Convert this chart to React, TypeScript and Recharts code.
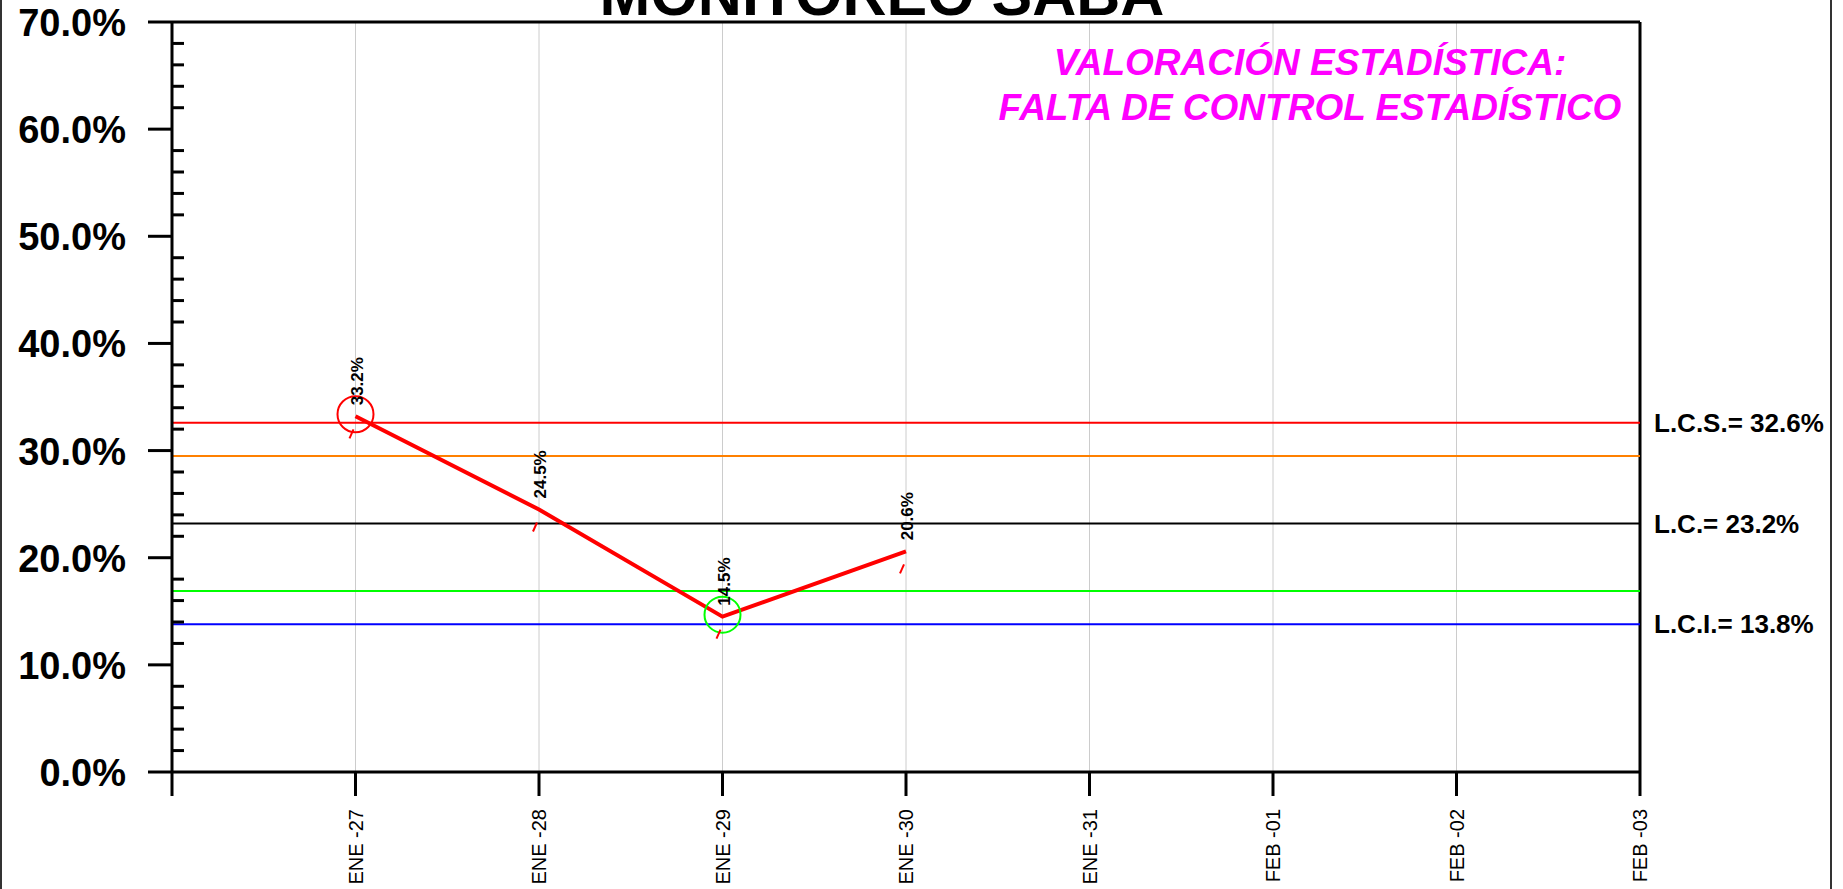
import { LineChart, Line, XAxis, YAxis, CartesianGrid, ReferenceLine, LabelList } from 'recharts';

const categories = ['', 'ENE -27', 'ENE -28', 'ENE -29', 'ENE -30', 'ENE -31', 'FEB -01', 'FEB -02', 'FEB -03'];
const xTicks = [0, 1, 2, 3, 4, 5, 6, 7, 8];
const yTicks = [0, 2, 4, 6, 8, 10, 12, 14, 16, 18, 20, 22, 24, 26, 28, 30, 32, 34, 36, 38, 40, 42, 44, 46, 48, 50, 52, 54, 56, 58, 60, 62, 64, 66, 68, 70];

// monitoring values (%) for ENE -27 .. ENE -30
const values = [33.2, 24.5, 14.5, 20.6];
const markColors = ['#ff0000', '', '#00ff00', ''];

const lcs = 32.6;
const upperWarn = 29.5;
const lc = 23.2;
const lowerWarn = 16.9;
const lci = 13.8;

const data = values.map((v, i) => ({ x: i + 1, y: v, mark: markColors[i] }));

const FONT = '"Liberation Sans", Arial, sans-serif';

const YTick = (props: any) => {
  const { x, y, payload } = props;
  const major = payload.value % 10 === 0;
  if (!major) {
    return <line x1={x} y1={y} x2={x + 12} y2={y} stroke="#000" strokeWidth={3} />;
  }
  return (
    <g>
      <line x1={x - 24} y1={y} x2={x} y2={y} stroke="#000" strokeWidth={3} />
      <text x={x - 46} y={y + 14} textAnchor="end" fontFamily={FONT} fontWeight="bold" fontSize={38} fill="#000">
        {payload.value.toFixed(1)}%
      </text>
    </g>
  );
};

const XTick = (props: any) => {
  const { x, y, payload } = props;
  return (
    <text transform={`translate(${x + 7},${y}) rotate(-90)`} textAnchor="end" fontFamily={FONT} fontSize={20} fill="#000">
      {categories[payload.value]}
    </text>
  );
};

const PointMark = (props: any) => {
  const { cx, cy, payload } = props;
  return (
    <g key={`pm-${payload.x}`}>
      {payload.mark && <circle cx={cx} cy={cy - 2} r={18} fill="none" stroke={payload.mark} strokeWidth={2} />}
      <line x1={cx - 6} y1={cy + 22} x2={cx - 2} y2={cy + 13} stroke="#ff0000" strokeWidth={2} />
    </g>
  );
};

const ValueLabel = (props: any) => {
  const { x, y, value } = props;
  return (
    <text transform={`translate(${x + 7},${y - 11}) rotate(-90)`} textAnchor="start" fontFamily={FONT} fontWeight="bold" fontSize={17} fill="#000">
      {value.toFixed(1)}%
    </text>
  );
};

const limitLabel = (text: string) => ({
  value: text,
  position: 'right' as const,
  offset: 14,
  fill: '#000',
  fontSize: 26,
  fontWeight: 'bold',
  fontFamily: FONT,
});

export default function App() {
  return (
    <div style={{ position: 'absolute', left: 0, top: 0, width: 1843, height: 889, background: '#fff', fontFamily: FONT }}>
      <div style={{ position: 'absolute', left: 0, top: 0, width: 1832, height: 889, boxSizing: 'border-box', borderLeft: '2px solid #333', borderRight: '2px solid #333' }} />
      <LineChart width={1843} height={889} data={data} margin={{ top: 22, right: 203, bottom: 0, left: 0 }}>
        <CartesianGrid horizontal={false} stroke="#cccccc" strokeWidth={1} />
        <XAxis
          dataKey="x"
          type="number"
          domain={[0, 8]}
          ticks={xTicks}
          interval={0}
          height={117}
          tickSize={24}
          tickMargin={13}
          axisLine={{ stroke: '#000', strokeWidth: 3 }}
          tickLine={{ stroke: '#000', strokeWidth: 3 }}
          tick={<XTick />}
        />
        <YAxis
          type="number"
          domain={[0, 70]}
          ticks={yTicks}
          interval={0}
          width={172}
          tickSize={0}
          tickMargin={0}
          axisLine={{ stroke: '#000', strokeWidth: 3 }}
          tickLine={false}
          tick={<YTick />}
        />
        <ReferenceLine y={70} stroke="#000" strokeWidth={3} />
        <ReferenceLine x={8} stroke="#000" strokeWidth={3} />
        <ReferenceLine y={lcs} stroke="#ff0000" strokeWidth={2} label={limitLabel(`L.C.S.= ${lcs.toFixed(1)}%`)} />
        <ReferenceLine y={upperWarn} stroke="#ff8000" strokeWidth={2} />
        <ReferenceLine y={lc} stroke="#000" strokeWidth={2} label={limitLabel(`L.C.= ${lc.toFixed(1)}%`)} />
        <ReferenceLine y={lowerWarn} stroke="#00ff00" strokeWidth={2} />
        <ReferenceLine y={lci} stroke="#0000ff" strokeWidth={2} label={limitLabel(`L.C.I.= ${lci.toFixed(1)}%`)} />
        <Line
          dataKey="y"
          stroke="#ff0000"
          strokeWidth={4}
          dot={<PointMark />}
          activeDot={false}
          isAnimationActive={false}
        >
          <LabelList dataKey="y" content={<ValueLabel />} />
        </Line>
      </LineChart>
      <svg style={{ position: 'absolute', left: 0, top: 0 }} width={1843} height={889} pointerEvents="none">
        <text x={882} y={15} textAnchor="middle" fontFamily={FONT} fontWeight="bold" fontSize={61} fill="#000">
          MONITOREO SABA
        </text>
        <text x={1310} textAnchor="middle" fontFamily={FONT} fontWeight="bold" fontStyle="italic" fontSize={37} fill="#ff00ff">
          <tspan x={1310} y={75}>VALORACIÓN ESTADÍSTICA:</tspan>
          <tspan x={1310} y={120}>FALTA DE CONTROL ESTADÍSTICO</tspan>
        </text>
      </svg>
    </div>
  );
}
